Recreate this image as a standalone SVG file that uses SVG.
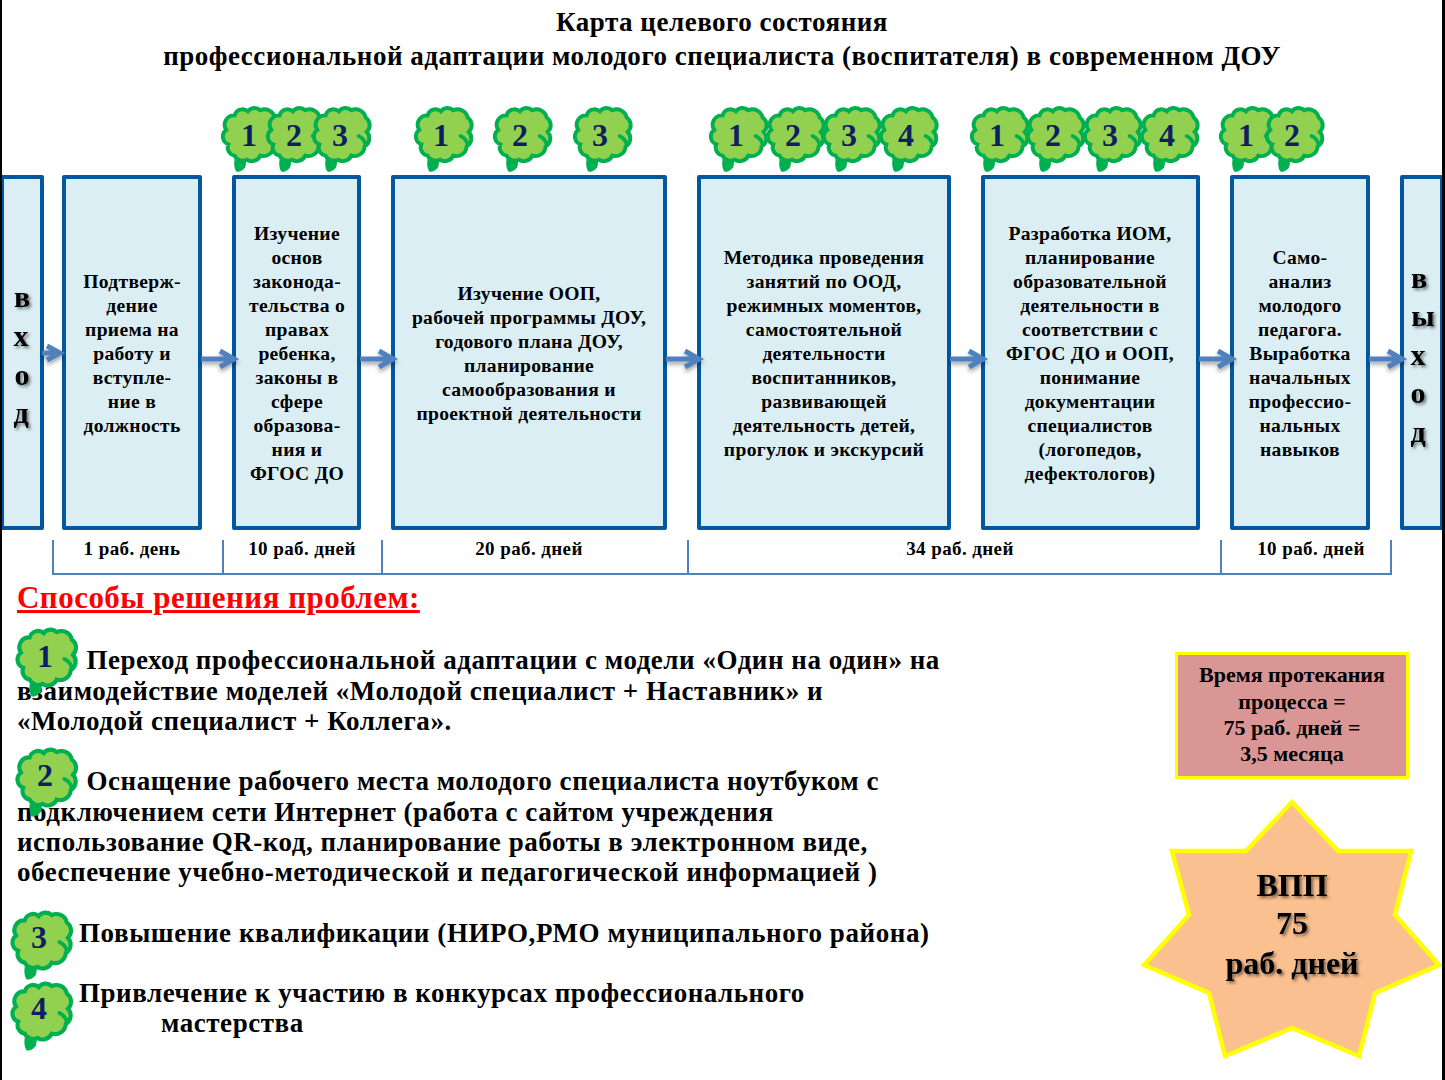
<svg xmlns="http://www.w3.org/2000/svg" width="1445" height="1080" viewBox="0 0 1445 1080">
<style>
text{font-family:"Liberation Serif","Times New Roman",serif;font-weight:700;fill:#000}
.box{fill:#DAEEF3;stroke:#01589F;stroke-width:4;stroke-linejoin:round}
.t{font-size:19.6px;text-anchor:middle;letter-spacing:.3px}
.big{font-size:27px;text-anchor:middle;letter-spacing:.53px}
.body{font-size:27px;letter-spacing:.54px}
.dur{font-size:19px;text-anchor:middle;letter-spacing:.4px}
.v{font-size:30px;text-anchor:middle}
.num{font-size:32px;fill:#0F1F60;text-anchor:middle}
.c{fill:#92D050;stroke:#00B050;stroke-width:3.8}
.ct{fill:#00B050;stroke:#00B050;stroke-width:1}
.h{fill:none;stroke:#00B050;stroke-width:3.500;stroke-linecap:round}
.arr{stroke:#4F81BD;stroke-width:5;fill:none;filter:url(#sh2)}
.br{stroke:#4F81BD;stroke-width:2;fill:none}
</style>
<defs>
<filter id="sh" x="-20%" y="-20%" width="140%" height="140%"><feDropShadow dx="2" dy="2" stdDeviation="1.500" flood-color="#000" flood-opacity=".5"/></filter>
<filter id="sh2" x="-30%" y="-60%" width="160%" height="220%"><feDropShadow dx="0" dy="3" stdDeviation="2" flood-color="#000" flood-opacity=".35"/></filter>
<symbol id="cloud" overflow="visible">
<g transform="scale(1.03)">
<path class="ct" d="M-15 21L-5 24L-6 31Q-10 36 -14 35Q-17 31 -15 21Z"/>
<path class="c" d="M-16 20A8 8 0 0 1 -22 9A8 8 0 0 1 -24 -5A9 9 0 0 1 -16 -19A8 8 0 0 1 -3 -23A8 8 0 0 1 9 -24A10 10 0 0 1 23 -17A9 9 0 0 1 24 -3A9 9 0 0 1 22 11A10 10 0 0 1 9 20A9 9 0 0 1 -4 24A9 9 0 0 1 -16 20Z"/>
<path class="h" d="M16 1Q21 3 23 9"/>
</g>
</symbol>
<path id="arrow" d="M0 0H34M19 -8L33 0L19 8"/>
</defs>
<rect x="0" y="0" width="1445" height="1080" fill="#fff"/>

<g id="title">
<text class="big" x="722" y="31">Карта целевого состояния</text>
<text class="big" x="722" y="65">профессиональной адаптации молодого специалиста (воспитателя) в современном ДОУ</text>
</g>

<g id="node-vhod"><rect class="box" x="2" y="177" width="40" height="351"/>
<g filter="url(#sh)"><text class="v" x="22" y="307">в</text><text class="v" x="21" y="346">х</text><text class="v" x="22" y="385">о</text><text class="v" x="21" y="423">д</text></g></g>

<g id="node-1"><rect class="box" x="64" y="177" width="136" height="351"/>
<text class="t"><tspan x="132" y="288">Подтверж-</tspan><tspan x="132" y="312">дение</tspan><tspan x="132" y="336">приема на</tspan><tspan x="132" y="360">работу и</tspan><tspan x="132" y="384">вступле-</tspan><tspan x="132" y="408">ние в</tspan><tspan x="132" y="432">должность</tspan></text></g>

<g id="node-2"><rect class="box" x="234" y="177" width="125" height="351"/>
<text class="t"><tspan x="297" y="240">Изучение</tspan><tspan x="297" y="264">основ</tspan><tspan x="297" y="288">законода-</tspan><tspan x="297" y="312">тельства о</tspan><tspan x="297" y="336">правах</tspan><tspan x="297" y="360">ребенка,</tspan><tspan x="297" y="384">законы в</tspan><tspan x="297" y="408">сфере</tspan><tspan x="297" y="432">образова-</tspan><tspan x="297" y="456">ния и</tspan><tspan x="297" y="480">ФГОС ДО</tspan></text></g>

<g id="node-3"><rect class="box" x="393" y="177" width="272" height="351"/>
<text class="t"><tspan x="529" y="300">Изучение ООП,</tspan><tspan x="529" y="324">рабочей программы ДОУ,</tspan><tspan x="529" y="348">годового плана ДОУ,</tspan><tspan x="529" y="372">планирование</tspan><tspan x="529" y="396">самообразования и</tspan><tspan x="529" y="420">проектной деятельности</tspan></text></g>

<g id="node-4"><rect class="box" x="699" y="177" width="250" height="351"/>
<text class="t"><tspan x="824" y="264">Методика проведения</tspan><tspan x="824" y="288">занятий по ООД,</tspan><tspan x="824" y="312">режимных моментов,</tspan><tspan x="824" y="336">самостоятельной</tspan><tspan x="824" y="360">деятельности</tspan><tspan x="824" y="384">воспитанников,</tspan><tspan x="824" y="408">развивающей</tspan><tspan x="824" y="432">деятельность детей,</tspan><tspan x="824" y="456">прогулок и экскурсий</tspan></text></g>

<g id="node-5"><rect class="box" x="983" y="177" width="215" height="351"/>
<text class="t"><tspan x="1090" y="240">Разработка ИОМ,</tspan><tspan x="1090" y="264">планирование</tspan><tspan x="1090" y="288">образовательной</tspan><tspan x="1090" y="312">деятельности в</tspan><tspan x="1090" y="336">соответствии с</tspan><tspan x="1090" y="360">ФГОС ДО и ООП,</tspan><tspan x="1090" y="384">понимание</tspan><tspan x="1090" y="408">документации</tspan><tspan x="1090" y="432">специалистов</tspan><tspan x="1090" y="456">(логопедов,</tspan><tspan x="1090" y="480">дефектологов)</tspan></text></g>

<g id="node-6"><rect class="box" x="1232" y="177" width="136" height="351"/>
<text class="t"><tspan x="1300" y="264">Само-</tspan><tspan x="1300" y="288">анализ</tspan><tspan x="1300" y="312">молодого</tspan><tspan x="1300" y="336">педагога.</tspan><tspan x="1300" y="360">Выработка</tspan><tspan x="1300" y="384">начальных</tspan><tspan x="1300" y="408">профессио-</tspan><tspan x="1300" y="432">нальных</tspan><tspan x="1300" y="456">навыков</tspan></text></g>

<g id="node-vyhod"><rect class="box" x="1402" y="177" width="40" height="351"/>
<g filter="url(#sh)"><text class="v" x="1419" y="288">в</text><text class="v" x="1423" y="326">ы</text><text class="v" x="1418" y="365">х</text><text class="v" x="1418" y="403">о</text><text class="v" x="1418" y="442">д</text></g></g>

<g id="connectors">
<path class="arr" d="M42 353H60M47 346L60 353L47 360"/>
<use href="#arrow" class="arr" x="201" y="359"/>
<use href="#arrow" class="arr" x="360" y="359"/>
<use href="#arrow" class="arr" x="666" y="359"/>
<use href="#arrow" class="arr" x="950" y="359"/>
<use href="#arrow" class="arr" x="1199" y="359"/>
<use href="#arrow" class="arr" x="1369" y="359"/>
</g>

<g id="badges-top">
<use href="#cloud" x="251" y="135"/><text class="num" x="249" y="146">1</text>
<use href="#cloud" x="296" y="135"/><text class="num" x="294" y="146">2</text>
<use href="#cloud" x="342" y="135"/><text class="num" x="340" y="146">3</text>
<use href="#cloud" x="444" y="135"/><text class="num" x="441" y="146">1</text>
<use href="#cloud" x="523" y="135"/><text class="num" x="520" y="146">2</text>
<use href="#cloud" x="603" y="135"/><text class="num" x="600" y="146">3</text>
<use href="#cloud" x="739" y="135"/><text class="num" x="736" y="146">1</text>
<use href="#cloud" x="796" y="135"/><text class="num" x="793" y="146">2</text>
<use href="#cloud" x="852" y="135"/><text class="num" x="849" y="146">3</text>
<use href="#cloud" x="909" y="135"/><text class="num" x="906" y="146">4</text>
<use href="#cloud" x="1000" y="135"/><text class="num" x="997" y="146">1</text>
<use href="#cloud" x="1056" y="135"/><text class="num" x="1053" y="146">2</text>
<use href="#cloud" x="1113" y="135"/><text class="num" x="1110" y="146">3</text>
<use href="#cloud" x="1170" y="135"/><text class="num" x="1167" y="146">4</text>
<use href="#cloud" x="1249" y="135"/><text class="num" x="1246" y="146">1</text>
<use href="#cloud" x="1295" y="135"/><text class="num" x="1292" y="146">2</text>
</g>

<g id="durations">
<path class="br" d="M53 540V574H1391V540M223 540V574M382 540V574M688 540V574M1221 540V574"/>
<text class="dur" x="132" y="555">1 раб. день</text>
<text class="dur" x="302" y="555">10 раб. дней</text>
<text class="dur" x="529" y="555">20 раб. дней</text>
<text class="dur" x="960" y="555">34 раб. дней</text>
<text class="dur" x="1311" y="555">10 раб. дней</text>
</g>

<text x="17" y="608" font-size="31" style="fill:#f00;text-decoration:underline;letter-spacing:.47px">Способы решения проблем:</text>

<g id="solutions">
<text class="body"><tspan x="86.500" y="669">Переход профессиональной адаптации с модели «Один на один» на</tspan><tspan x="17" y="700">взаимодействие моделей «Молодой специалист + Наставник» и</tspan><tspan x="17" y="730">«Молодой специалист + Коллега».</tspan></text>
<text class="body"><tspan x="86.500" y="790">Оснащение рабочего места молодого специалиста ноутбуком с</tspan><tspan x="17" y="821">подключением сети Интернет (работа с сайтом учреждения</tspan><tspan x="17" y="851">использование QR-код, планирование работы в электронном виде,</tspan><tspan x="17" y="881">обеспечение учебно-методической и педагогической информацией )</tspan></text>
<text class="body" style="letter-spacing:.58px" x="79" y="942">Повышение квалификации (НИРО,РМО муниципального района)</text>
<text class="body"><tspan x="79" y="1002">Привлечение к участию в конкурсах профессионального</tspan><tspan x="161" y="1032">мастерства</tspan></text>
</g>

<g id="badges-low">
<g transform="translate(47 658) scale(1.05)"><use href="#cloud"/></g><text class="num" x="45" y="667">1</text>
<g transform="translate(47 778) scale(1.05)"><use href="#cloud"/></g><text class="num" x="45" y="786">2</text>
<g transform="translate(42 941) scale(1.05)"><use href="#cloud"/></g><text class="num" x="39" y="948">3</text>
<g transform="translate(42 1012) scale(1.05)"><use href="#cloud"/></g><text class="num" x="39" y="1019">4</text>
</g>

<g id="node-time"><rect x="1176.500" y="653.500" width="231" height="124" fill="#D99694" stroke="#FFFF00" stroke-width="3"/>
<text style="font-size:22px;text-anchor:middle"><tspan x="1292" y="682">Время протекания</tspan><tspan x="1292" y="709">процесса =</tspan><tspan x="1292" y="735">75 раб. дней =</tspan><tspan x="1292" y="761">3,5 месяца</tspan></text></g>

<g id="node-star"><path d="M1292 802L1338 851H1411L1395 915L1439 965L1375 993L1359 1056L1292 1028L1225 1056L1209 993L1144 965L1189 915L1172 851H1246Z" fill="#FAC090" stroke="#FFFF00" stroke-width="4.500" stroke-linejoin="miter"/>
<text filter="url(#sh)" style="font-size:32px;text-anchor:middle"><tspan x="1292" y="896">ВПП</tspan><tspan x="1292" y="934">75</tspan><tspan x="1292" y="974">раб. дней</tspan></text></g>

<rect x="0" y="0" width="2" height="1080" fill="#000"/>
<rect x="1442" y="0" width="3" height="1080" fill="#000"/>
</svg>
